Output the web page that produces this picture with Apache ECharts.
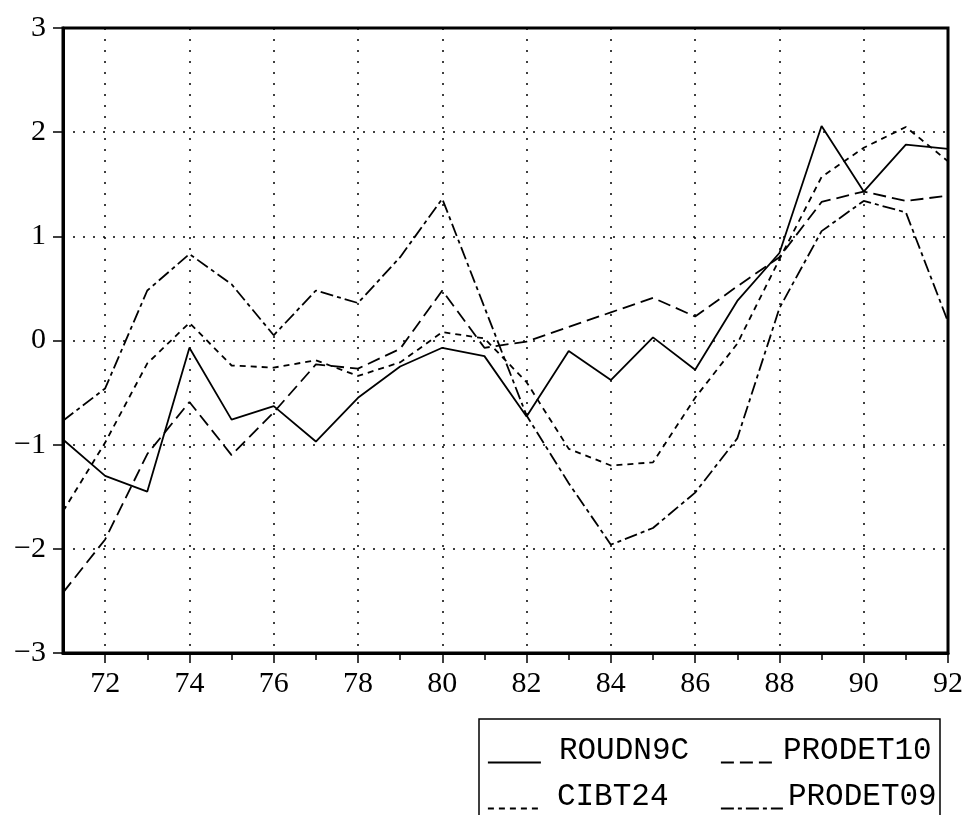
<!DOCTYPE html>
<html>
<head>
<meta charset="utf-8">
<script src="https://cdn.jsdelivr.net/npm/echarts@6/dist/echarts.min.js"></script>
<style>
  html, body { margin: 0; padding: 0; background: #fff; }
  #chart { width: 969px; height: 815px; }
</style>
</head>
<body>
<div id="chart"></div>
<script>
// Years 1971–1992 (two-digit labels on the axis)
var years = ['71','72','73','74','75','76','77','78','79','80','81',
             '82','83','84','85','86','87','88','89','90','91','92'];

// Standardised series, one value per year
var roudn9c  = [-0.95, -1.30, -1.45, -0.07, -0.76, -0.63, -0.97, -0.55, -0.25, -0.07, -0.15,
                -0.73, -0.10, -0.38, 0.03, -0.28, 0.38, 0.84, 2.06, 1.43, 1.88, 1.84];
var prodet10 = [-2.42, -1.91, -1.09, -0.59, -1.10, -0.69, -0.23, -0.27, -0.08, 0.48, -0.07,
                -0.01, 0.13, 0.27, 0.41, 0.23, 0.52, 0.80, 1.33, 1.43, 1.34, 1.39];
var cibt24   = [-1.64, -0.98, -0.22, 0.17, -0.24, -0.26, -0.19, -0.34, -0.21, 0.08, 0.02,
                -0.40, -1.04, -1.20, -1.17, -0.55, -0.03, 0.78, 1.57, 1.85, 2.05, 1.72];
var prodet09 = [-0.77, -0.46, 0.48, 0.83, 0.54, 0.05, 0.48, 0.36, 0.80, 1.36, 0.32,
                -0.72, -1.37, -1.96, -1.80, -1.46, -0.94, 0.31, 1.05, 1.34, 1.23, 0.18];

// Y tick labels from -3 to 3
var yTickLabels = ['\u22123', '\u22122', '\u22121', '0', '1', '2', '3'];

var INK = '#000';
var axisFont = { fontFamily: 'Liberation Serif', fontSize: 30, color: INK };

function lineSeries(name, data, dash) {
  return {
    name: name,
    type: 'line',
    data: data,
    symbol: 'none',
    xAxisIndex: 0,
    lineStyle: { color: INK, width: 1.8, type: dash },
    itemStyle: { color: INK },
    emphasis: { disabled: true },
    animation: false
  };
}

// One legend block per entry; the sample line sits on the text baseline
function legendItem(name, left, top, iconWidth, textGap) {
  return {
    data: [name],
    left: left,
    top: top,
    padding: 0,
    itemWidth: iconWidth,
    itemHeight: 14,
    selectedMode: false,
    itemStyle: { color: 'transparent', borderWidth: 0, opacity: 0 },
    lineStyle: { width: 1.8 },
    formatter: '{t|{name}}',
    textStyle: {
      color: INK,
      rich: {
        t: {
          fontFamily: 'Liberation Mono',
          fontSize: 31,
          color: INK,
          padding: [0, 0, 24, textGap]
        }
      }
    }
  };
}

var chart = echarts.init(document.getElementById('chart'), null, { renderer: 'canvas' });

chart.setOption({
  backgroundColor: '#fff',
  animation: false,
  grid: {
    left: 63, right: 21, top: 28, bottom: 162,
    show: true, borderWidth: 3, borderColor: INK, backgroundColor: 'transparent'
  },
  xAxis: [
    {
      type: 'category',
      data: years,
      boundaryGap: false,
      axisLine: { show: true, onZero: false, lineStyle: { color: INK, width: 3 } },
      axisTick: {
        show: true, length: 10, inside: false,
        interval: function (i) { return i % 2 === 1; },
        lineStyle: { color: INK, width: 1.5 }
      },
      axisLabel: Object.assign({
        interval: function (i) { return i % 2 === 1; },
        margin: 16
      }, axisFont),
      splitLine: {
        show: true,
        interval: function (i) { return i % 2 === 1 && i < years.length - 1; },
        lineStyle: { color: INK, width: 1.5, type: [2, 9] }
      }
    },
    {
      // odd-year minor ticks
      type: 'category',
      data: years,
      boundaryGap: false,
      position: 'bottom',
      axisLine: { show: false, onZero: false },
      axisTick: {
        show: true, length: 7,
        interval: function (i) { return i % 2 === 0 && i > 0; },
        lineStyle: { color: INK, width: 1.5 }
      },
      axisLabel: { show: false },
      splitLine: { show: false }
    }
  ],
  yAxis: {
    type: 'value',
    min: -3, max: 3, interval: 1,
    axisLine: { show: true, lineStyle: { color: INK, width: 3 } },
    axisTick: { show: true, length: 10, lineStyle: { color: INK, width: 1.5 } },
    axisLabel: Object.assign({
      margin: 17,
      formatter: function (v) { return yTickLabels[Math.round(v) + 3]; }
    }, axisFont),
    splitLine: { show: true, lineStyle: { color: INK, width: 1.5, type: [2, 8] } }
  },
  legend: [
    legendItem('ROUDN9C', 487, 735, 53, 13),
    legendItem('PRODET10', 720, 735, 57, 0),
    legendItem('CIBT24', 487, 781, 53, 11),
    legendItem('PRODET09', 720, 781, 62, 0)
  ],
  graphic: [
    {
      type: 'rect',
      shape: { x: 479, y: 719, width: 461, height: 120 },
      style: { fill: 'none', stroke: INK, lineWidth: 1.5 },
      silent: true
    }
  ],
  series: [
    lineSeries('ROUDN9C', roudn9c, 'solid'),
    lineSeries('PRODET10', prodet10, [13, 6]),
    lineSeries('CIBT24', cibt24, [6, 5]),
    lineSeries('PRODET09', prodet09, [13, 4, 4, 4])
  ]
});
</script>
</body>
</html>
